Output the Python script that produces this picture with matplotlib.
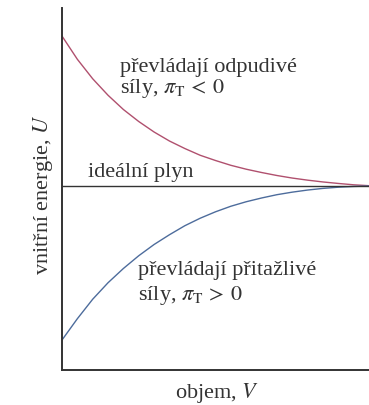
import matplotlib
matplotlib.use("Agg")
import matplotlib.pyplot as plt

plt.rcParams['font.family'] = ['Liberation Serif', 'DejaVu Serif']
plt.rcParams['mathtext.fontset'] = 'stix'

# vnitřní energie v závislosti na objemu (libovolné jednotky)
V = [0.0, 0.5, 1.0, 1.5, 2.0, 2.5, 3.0, 3.5, 4.0, 4.5, 5.0,
     5.5, 6.0, 6.5, 7.0, 7.5, 8.0, 8.5, 9.0, 9.5, 10.0]
U_odp = [10.0, 8.45, 7.15, 6.05, 5.1, 4.3, 3.6, 3.0, 2.5, 2.05, 1.7,
         1.38, 1.12, 0.9, 0.7, 0.53, 0.39, 0.27, 0.17, 0.08, 0.02]
U_prit = [-10.27, -8.85, -7.55, -6.45, -5.5, -4.65, -3.9, -3.25, -2.65, -2.15, -1.72,
          -1.35, -1.05, -0.8, -0.58, -0.41, -0.27, -0.16, -0.08, -0.03, 0.0]
U_ideal = [0.0] * len(V)

fig = plt.figure(figsize=(3.69, 4.05), dpi=100)
ax = fig.add_axes([62/369, 35/405, 307/369, 362/405])

ax.plot(V, U_odp, color='#b0506e', lw=1.0)
ax.plot(V, U_prit, color='#4d6c9c', lw=1.0)
ax.plot(V, U_ideal, color='#333333', lw=1.0)

ax.set_xlim(0, 10)
ax.set_ylim(-12.27, 11.87)
ax.set_xticks([])
ax.set_yticks([])
ax.spines['top'].set_visible(False)
ax.spines['right'].set_visible(False)
for s in ['left', 'bottom']:
    ax.spines[s].set_linewidth(1.4)
    ax.spines[s].set_color('#333333')

txt = dict(fontsize=16, color='#333333', ha='left', va='baseline')
ax.text(1.89, 7.6, 'převládají odpudivé', **txt)
ax.text(1.89, 6.2, 'síly, $\\pi_\\mathrm{T}\\,<\\,0$', **txt)
ax.text(0.85, 0.6, 'ideální plyn', **txt)
ax.text(2.47, -5.93, 'převládají přitažlivé', **txt)
ax.text(2.47, -7.6, 'síly, $\\pi_\\mathrm{T}\\,>\\,0$', **txt)

fig.text(217/369, 1 - 393/405, 'objem, $V$', fontsize=16, color='#333333',
         ha='center', va='center')
fig.text(43/369, 1 - 195/405, 'vnitřní energie, $U$', fontsize=16, color='#333333',
         ha='center', va='center', rotation=90)

fig.savefig('out.png', dpi=100)
